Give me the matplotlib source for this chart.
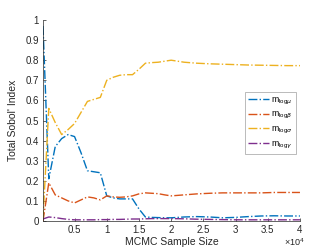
import matplotlib
matplotlib.use("Agg")
import matplotlib.pyplot as plt
from matplotlib.ticker import FuncFormatter

plt.rcParams['font.family'] = ['Liberation Sans', 'DejaVu Sans']
plt.rcParams['mathtext.fontset'] = 'custom'
plt.rcParams['mathtext.rm'] = 'Liberation Sans'

# MCMC sample sizes
samples = [100] + list(range(1000, 21000, 1000)) + list(range(22000, 42000, 2000))

m_log_mu = [0.97, 0.21, 0.37, 0.41, 0.43, 0.42, 0.34, 0.25, 0.245, 0.24, 0.125,
            0.115, 0.11, 0.11, 0.11, 0.06, 0.02, 0.018, 0.017, 0.016, 0.016,
            0.02, 0.022, 0.02, 0.016, 0.018, 0.022, 0.025, 0.026, 0.025, 0.025]
m_log_beta = [0.0, 0.19, 0.13, 0.115, 0.10, 0.09, 0.105, 0.12, 0.115, 0.105, 0.125,
              0.12, 0.118, 0.12, 0.125, 0.135, 0.14, 0.138, 0.136, 0.13, 0.125,
              0.13, 0.135, 0.138, 0.14, 0.14, 0.14, 0.14, 0.142, 0.142, 0.142]
m_log_sigma = [0.01, 0.56, 0.49, 0.43, 0.455, 0.485, 0.54, 0.595, 0.605, 0.615, 0.70,
               0.715, 0.725, 0.728, 0.728, 0.755, 0.785, 0.788, 0.79, 0.795, 0.80,
               0.79, 0.785, 0.782, 0.78, 0.778, 0.776, 0.775, 0.774, 0.773, 0.773]
m_log_gamma = [0.01, 0.02, 0.017, 0.012, 0.008, 0.006, 0.006, 0.006, 0.006, 0.007, 0.007,
               0.008, 0.008, 0.009, 0.01, 0.01, 0.011, 0.012, 0.012, 0.012, 0.012,
               0.011, 0.009, 0.008, 0.007, 0.006, 0.006, 0.006, 0.006, 0.006, 0.006]

series = [m_log_mu, m_log_beta, m_log_sigma, m_log_gamma]
labels = [r'$\mathrm{m}_{\mathrm{log}\mu}$', r'$\mathrm{m}_{\mathrm{log}\beta}$',
          r'$\mathrm{m}_{\mathrm{log}\sigma}$', r'$\mathrm{m}_{\mathrm{log}\gamma}$']
colors = ['#0072BD', '#D95319', '#EDB120', '#7E2F8E']

fig = plt.figure(figsize=(3.32, 2.49), dpi=100)
ax = fig.add_axes([0.1295, 0.1124, 0.774, 0.8073])

for s, lab, c in zip(series, labels, colors):
    ax.plot(samples, s, linestyle='-.', color=c, linewidth=1.0, label=lab)

ax.set_xlim(100, 40000)
ax.set_ylim(0, 1)
ax.set_xticks([5000, 10000, 15000, 20000, 25000, 30000, 35000, 40000])
ax.xaxis.set_major_formatter(FuncFormatter(lambda v, p: f"{v/1e4:g}"))
ax.set_yticks([i / 10 for i in range(11)])
ax.yaxis.set_major_formatter(FuncFormatter(lambda v, p: f"{v:g}"))

for side in ['top', 'right']:
    ax.spines[side].set_visible(False)
for side in ['left', 'bottom']:
    ax.spines[side].set_color('#262626')
    ax.spines[side].set_linewidth(0.5)
ax.tick_params(direction='in', length=2.5, width=0.5, colors='#262626',
               labelsize=7, pad=3)

ax.set_xlabel('MCMC Sample Size', fontsize=7.5, color='#262626', labelpad=1.5)
ax.set_ylabel("Total Sobol' Index", fontsize=7.5, color='#262626', labelpad=5)
ax.text(1.02, -0.122, r'$\times10^{4}$', transform=ax.transAxes, ha='right',
        va='baseline', fontsize=6.5, color='#262626')

leg = ax.legend(loc='upper right', bbox_to_anchor=(0.984, 0.64), fontsize=6.3,
                frameon=True, fancybox=False, handlelength=2.4, handletextpad=0.3,
                borderpad=0.35, labelspacing=0.35, borderaxespad=0)
leg.get_frame().set_edgecolor('#888888')
leg.get_frame().set_linewidth(0.5)

fig.savefig('out.png', dpi=100)
